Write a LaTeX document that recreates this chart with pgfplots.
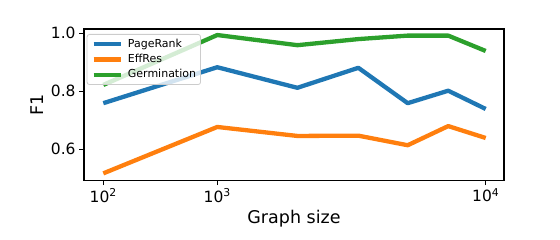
\documentclass[border=0pt]{standalone}
\usepackage{fontspec}
\setmainfont{DejaVu Sans}
\usepackage{pgfplots}
\pgfplotsset{compat=1.18}
\definecolor{tabblue}{HTML}{1F77B4}
\definecolor{taborange}{HTML}{FF7F0E}
\definecolor{tabgreen}{HTML}{2CA02C}
\begin{document}
\begin{tikzpicture}
\path[use as bounding box] (0pt,0pt) rectangle (560pt,240pt);
\begin{axis}[
  at={(84pt,59.7pt)}, anchor=south west,
  scale only axis, width=420pt, height=151.3pt,
  xmin=1.899, xmax=4.0957, ymin=0.4931, ymax=1.0148,
  xtick={2,2.596,4},
  xticklabels={10\textsuperscript{2},10\textsuperscript{3},10\textsuperscript{4}},
  ytick={0.6,0.8,1.0},
  yticklabels={0.6,0.8,1.0},
  tick align=outside, tick pos=left,
  major tick length=4.9pt,
  every tick/.style={black, line width=1.1pt},
  axis line style={line width=1.1pt},
  ticklabel style={font=\fontsize{15.5}{18}\selectfont},
  /pgf/number format/assume math mode=true,
  xlabel={Graph size}, ylabel={F1},
  label style={font=\fontsize{17.5}{20}\selectfont},
  xlabel style={at={(axis description cs:0.5,-0.256)}, anchor=center},
  ylabel style={at={(axis description cs:-0.112,0.5)}, anchor=center},
  legend style={at={(axis description cs:0.0064,0.967)}, anchor=north west,
    draw=black!20, rounded corners=2.5pt, fill=white, fill opacity=0.8, text opacity=1,
    font=\fontsize{11}{13}\selectfont, row sep=4.7pt, column sep=5pt, inner sep=4.5pt,
    nodes={inner sep=0pt, text height=8.3pt, text depth=2.3pt},
    line width=0.8pt},
  legend cell align=left,
  legend image code/.code={\draw[#1, line width=4.3pt] (0pt,0pt) -- (27pt,0pt);},
]
\addplot[tabblue, line width=4.3pt, line join=round] coordinates {
(2,0.759) (2.596,0.883) (3.015,0.812) (3.334,0.881) (3.592,0.759) (3.804,0.802) (4.0,0.739)};
\addlegendentry{PageRank}
\addplot[taborange, line width=4.3pt, line join=round] coordinates {
(2,0.517) (2.596,0.677) (3.015,0.646) (3.334,0.647) (3.592,0.614) (3.804,0.680) (4.0,0.639)};
\addlegendentry{EffRes}
\addplot[tabgreen, line width=4.3pt, line join=round] coordinates {
(2,0.822) (2.596,0.994) (3.015,0.959) (3.334,0.980) (3.592,0.992) (3.804,0.992) (4.0,0.939)};
\addlegendentry{Germination}
\end{axis}
\end{tikzpicture}
\end{document}
